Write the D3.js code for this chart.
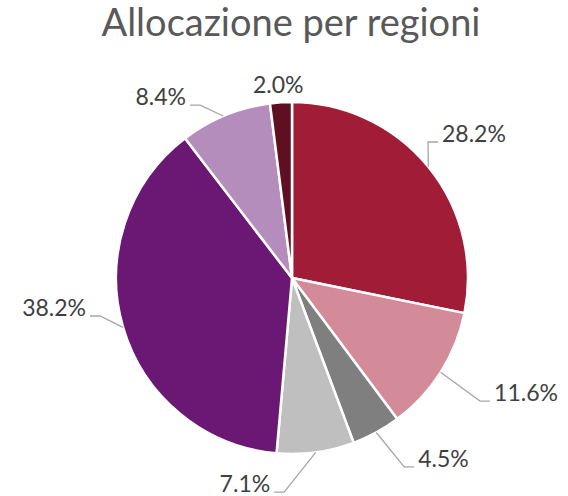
<!DOCTYPE html>
<html>
<head>
<meta charset="utf-8">
<script src="https://cdn.jsdelivr.net/npm/d3@7"></script>
<style>
  body { margin: 0; background: #fff; }
  #chart { width: 568px; height: 496px; }
</style>
</head>
<body>
<div id="chart"></div>
<script>
const title = 'Allocazione per regioni';
const values = [28.2, 11.6, 4.5, 7.1, 38.2, 8.4, 2.0];
const colors = ['#A11C36', '#D38B99', '#7F7F7F', '#BFBFBF', '#6B1774', '#B58DBD', '#5E0F21'];

// label placement (Excel style): elbow point in polar coords, leader start angle
const labelLayout = [
    { angle: 45, dist: 1.093, side: 'start' },
    { angle: 123.2, dist: 1.277, side: 'start' },
    { angle: 149.3, dist: 1.248, side: 'start' },
    { angle: 182.1, dist: 1.217, side: 'end' },
    { angle: 258.8, dist: 1.112, side: 'end', lead: 253.7 },
    { angle: 332, dist: 1.113, side: 'end', lead: 337 },
    { angle: 355.9, dist: 1.1, side: 'middle', noLine: true }
];

function drawPie() {
    const container = d3.select('#chart');
    const width = 568, height = 496;
    const cx = 292, cy = 278, radius = 176;

    const svg = container.append('svg')
        .attr('width', width)
        .attr('height', height);

    svg.append('text')
        .attr('x', 291)
        .attr('y', 36)
        .attr('text-anchor', 'middle')
        .style('font-family', 'Lato, sans-serif')
        .style('font-size', '38px')
        .style('fill', '#595959')
        .text(title);

    const g = svg.append('g')
        .attr('transform', `translate(${cx},${cy})`);

    const pie = d3.pie().value(d => d).sort(null);
    const arc = d3.arc().innerRadius(0).outerRadius(radius);
    const arcs = pie(values);

    g.selectAll('path')
        .data(arcs)
        .enter()
        .append('path')
        .attr('d', arc)
        .attr('fill', (d, i) => colors[i])
        .attr('stroke', '#fff')
        .style('stroke-width', '2.5px');

    const rad = a => a * Math.PI / 180;
    function polar(angle, r) {
        return [r * Math.sin(angle), -r * Math.cos(angle)];
    }

    arcs.forEach((d, i) => {
        const lay = labelLayout[i];
        const elbow = polar(rad(lay.angle), radius * lay.dist);
        const label = d.data.toFixed(1) + '%';
        if (lay.noLine) {
            g.append('text')
                .attr('x', elbow[0])
                .attr('y', elbow[1])
                .attr('dy', '.35em')
                .attr('text-anchor', 'middle')
                .style('font-family', 'Lato, sans-serif')
                .style('font-size', '23px')
                .style('fill', '#404040')
                .text(label);
            return;
        }
        const mid = lay.lead !== undefined ? rad(lay.lead) : (d.startAngle + d.endAngle) / 2;
        const start = polar(mid, radius);
        const dir = lay.side === 'start' ? 1 : -1;
        const end = [elbow[0] + dir * 10, elbow[1]];

        g.append('polyline')
            .attr('points', [start, elbow, end])
            .style('fill', 'none')
            .style('stroke', '#A6A6A6')
            .style('stroke-width', '1.3px');

        g.append('text')
            .attr('x', end[0] + dir * 4)
            .attr('y', elbow[1] - 8)
            .attr('dy', '.35em')
            .attr('text-anchor', lay.side)
            .style('font-family', 'Lato, sans-serif')
            .style('font-size', '23px')
            .style('fill', '#404040')
            .text(label);
    });
}

drawPie();
</script>
</body>
</html>
